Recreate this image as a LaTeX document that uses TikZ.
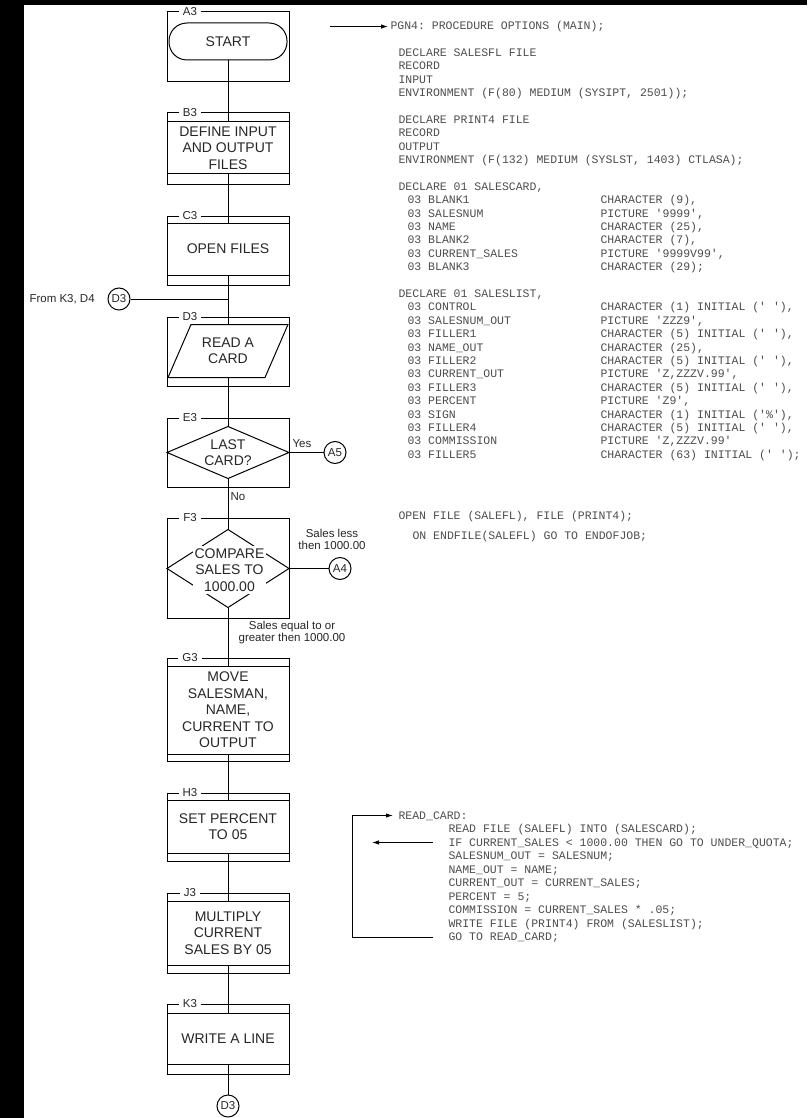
\documentclass[tikz,border=0pt]{standalone}
\usepackage{fontspec}
\setmainfont{Liberation Sans}
\setmonofont{Liberation Mono}
\usetikzlibrary{arrows.meta,calc}
\definecolor{ink}{gray}{0.15}
\definecolor{codeink}{gray}{0.3}
\newcommand\flowfont{\fontsize{14}{16.5}\selectfont}
\newcommand\labfont{\fontsize{11.5}{12}\selectfont}
\newcommand\codefont{\ttfamily\fontsize{11.5}{13.4}\selectfont}
\newcommand\cln[4]{\node[code] (#1) at (#2,{29.5+13.4*#3}) {#4};}
\newcommand\cdl[4]{\node[code] (#1a) at (407,{29.5+13.4*#2}) {#3};\node[code] (#1b) at (600,{29.5+13.4*#2}) {#4};}
\newcommand\bln[4]{\node[code] (#1) at (#2,{819+13.5*#3}) {#4};}
\begin{document}
\begin{tikzpicture}[x=1pt,y=-1pt, line width=1pt,
  frame/.style={draw, minimum width=122pt, inner sep=0pt},
  proc/.style={draw, minimum width=122pt, align=center, font=\flowfont, text=ink, inner sep=0pt},
  ghost/.style={minimum width=121pt, align=center, font=\flowfont, text=ink, inner sep=0pt},
  lbl/.style={fill=white, inner xsep=4pt, inner ysep=0.5pt, font=\labfont, text=ink},
  note/.style={font=\labfont, text=ink, align=center, inner sep=0pt},
  conn/.style={draw, circle, minimum size=22pt, inner sep=0pt, font=\labfont, text=ink},
  code/.style={anchor=base west, inner sep=0pt, font=\codefont, text=codeink},
  arr/.style={-{Latex[length=7pt,width=4.5pt]}},
]
\useasboundingbox (0,0) rectangle (807,1118);
\fill[black] (0,0) rectangle (24,1118);
\fill[black] (0,0) rectangle (807,5);

% ---- frames and symbols ----
% A3
\node[frame, minimum height=70pt] (fA) at (228,47) {};
\node[draw, rounded corners=18pt, minimum width=118pt, minimum height=37pt, font=\flowfont, text=ink] (start) at (228,41.5) {START};
% B3
\node[frame, minimum height=72pt] (fB) at (228,149) {};
\node[proc, minimum height=52pt] (pB) at (228,148) {DEFINE INPUT\\AND OUTPUT\\FILES};
% C3
\node[frame, minimum height=69pt] (fC) at (228,250.5) {};
\node[proc, minimum height=52pt] (pC) at (228,249) {OPEN FILES};
% D3
\node[frame, minimum height=69pt] (fD3) at (228,351.5) {};
\node[ghost, minimum height=52pt, minimum width=119pt] (pD) at (228,351) {READ A\\CARD};
\draw ($(pD.north west)+(23,0)$) -- (pD.north east) -- ($(pD.south east)-(23,0)$) -- (pD.south west) -- cycle;
% E3
\node[frame, minimum height=69pt] (fE) at (228,452.5) {};
\node[ghost, minimum height=51pt] (eD) at (228,452.5) {LAST\\CARD?};
\draw (eD.north) -- (eD.east) -- (eD.south) -- (eD.west) -- cycle;
% F3
\node[frame, minimum height=100pt] (fF) at (228,568) {};
\node[ghost, minimum height=77pt] (fD) at (228,568.5) {};
\draw (fD.north) -- (fD.east) -- (fD.south) -- (fD.west) -- cycle;
\node[fill=white, align=center, font=\flowfont, text=ink, inner xsep=2pt, inner ysep=3pt] (fT) at (229.5,570) {COMPARE\\SALES TO\\1000.00};
% G3
\node[frame, minimum height=103pt] (fG) at (228,709.5) {};
\node[proc, minimum height=88pt] (pG) at (228,710) {MOVE\\SALESMAN,\\NAME,\\CURRENT TO\\OUTPUT};
% H3
\node[frame, minimum height=68pt] (fH) at (228,827) {};
\node[proc, minimum height=53pt] (pH) at (228,826.5) {SET PERCENT\\TO 05};
% J3
\node[frame, minimum height=80pt] (fJ) at (228,933) {};
\node[proc, minimum height=64pt] (pJ) at (228,933) {MULTIPLY\\CURRENT\\SALES BY 05};
% K3
\node[frame, minimum height=70pt] (fK) at (228,1039) {};
\node[proc, minimum height=51pt] (pK) at (228,1038.5) {WRITE A LINE};
% end connector
\node[conn] (endc) at (228,1106) {D3};

% ---- connectors ----
\draw (start.south) -- (pB.north);
\draw (pB.south) -- (pC.north);
\draw (pC.south) -- (pD.north);
\draw (pD.south) -- (eD.north);
\draw (eD.south) -- (fD.north);
\draw (fD.south) -- (pG.north);
\draw (pG.south) -- (pH.north);
\draw (pH.south) -- (pJ.north);
\draw (pJ.south) -- (pK.north);
\draw (pK.south) -- (endc.north);

% ---- frame labels ----
\node[lbl] (lA) at (190,12) {A3};
\node[lbl] (lB) at (190,113) {B3};
\node[lbl] (lC) at (190,216) {C3};
\node[lbl] (lD) at (190,317) {D3};
\node[lbl] (lE) at (190,418) {E3};
\node[lbl] (lF) at (190,518) {F3};
\node[lbl] (lG) at (190,658) {G3};
\node[lbl] (lH) at (190,793) {H3};
\node[lbl] (lJ) at (190,893) {J3};
\node[lbl] (lK) at (190,1004) {K3};

% ---- side connectors ----
\node[conn] (dIn) at (119,299) {D3};
\node[note, anchor=west] (from) at (29,299) {From K3, D4};
\draw (dIn.east) -- (dIn.east -| pC.south);

\node[conn] (a5) at (335,452.5) {A5};
\draw (eD.east) -- (a5.west);
\node[note] (yes) at (302,444) {Yes};
\node[note] (no) at (238,497) {No};

\node[conn] (a4) at (340,568.5) {A4};
\draw (fD.east) -- (a4.west);
\node[note] (less) at (332,539) {Sales less\\then 1000.00};
\node[note] (geq) at (292,632.5) {Sales equal to or\\greater then 1000.00};

% ---- program listing ----
\cln{pgn}{390}{0}{PGN4: PROCEDURE OPTIONS (MAIN);}
\cln{c2}{398}{2}{DECLARE SALESFL FILE}
\cln{c3}{398}{3}{RECORD}
\cln{c4}{398}{4}{INPUT}
\cln{c5}{398}{5}{ENVIRONMENT (F(80) MEDIUM (SYSIPT, 2501));}
\cln{c7}{398}{7}{DECLARE PRINT4 FILE}
\cln{c8}{398}{8}{RECORD}
\cln{c9}{398}{9}{OUTPUT}
\cln{c10}{398}{10}{ENVIRONMENT (F(132) MEDIUM (SYSLST, 1403) CTLASA);}
\cln{c12}{398}{12}{DECLARE 01 SALESCARD,}
\cdl{c13}{13}{03 BLANK1}{CHARACTER (9),}
\cdl{c14}{14}{03 SALESNUM}{PICTURE '9999',}
\cdl{c15}{15}{03 NAME}{CHARACTER (25),}
\cdl{c16}{16}{03 BLANK2}{CHARACTER (7),}
\cdl{c17}{17}{03 CURRENT\_SALES}{PICTURE '9999V99',}
\cdl{c18}{18}{03 BLANK3}{CHARACTER (29);}
\cln{c20}{398}{20}{DECLARE 01 SALESLIST,}
\cdl{c21}{21}{03 CONTROL}{CHARACTER (1) INITIAL (' '),}
\cdl{c22}{22}{03 SALESNUM\_OUT}{PICTURE 'ZZZ9',}
\cdl{c23}{23}{03 FILLER1}{CHARACTER (5) INITIAL (' '),}
\cdl{c24}{24}{03 NAME\_OUT}{CHARACTER (25),}
\cdl{c25}{25}{03 FILLER2}{CHARACTER (5) INITIAL (' '),}
\cdl{c26}{26}{03 CURRENT\_OUT}{PICTURE 'Z,ZZZV.99',}
\cdl{c27}{27}{03 FILLER3}{CHARACTER (5) INITIAL (' '),}
\cdl{c28}{28}{03 PERCENT}{PICTURE 'Z9',}
\cdl{c29}{29}{03 SIGN}{CHARACTER (1) INITIAL ('\%'),}
\cdl{c30}{30}{03 FILLER4}{CHARACTER (5) INITIAL (' '),}
\cdl{c31}{31}{03 COMMISSION}{PICTURE 'Z,ZZZV.99'}
\cdl{c32}{32}{03 FILLER5}{CHARACTER (63) INITIAL (' ');}
\node[code] (open) at (398,519.5) {OPEN FILE (SALEFL), FILE (PRINT4);};
\node[code] (onend) at (412,539.5) {ON ENDFILE(SALEFL) GO TO ENDOFJOB;};

\coordinate (t0) at (330,0);
\draw[arr] (t0 |- pgn.west) -- ([xshift=-2pt]pgn.west);

% ---- main loop listing ----
\bln{rc}{398}{0}{READ\_CARD:}
\bln{b1}{448}{1}{READ FILE (SALEFL) INTO (SALESCARD);}
\bln{b2}{448}{2}{IF CURRENT\_SALES < 1000.00 THEN GO TO UNDER\_QUOTA;}
\bln{b3}{448}{3}{SALESNUM\_OUT = SALESNUM;}
\bln{b4}{448}{4}{NAME\_OUT = NAME;}
\bln{b5}{448}{5}{CURRENT\_OUT = CURRENT\_SALES;}
\bln{b6}{448}{6}{PERCENT = 5;}
\bln{b7}{448}{7}{COMMISSION = CURRENT\_SALES * .05;}
\bln{b8}{448}{8}{WRITE FILE (PRINT4) FROM (SALESLIST);}
\bln{b9}{448}{9}{GO TO READ\_CARD;}

\coordinate (rcm) at ([yshift=3.5pt]rc.base west);
\coordinate (b2m) at ([yshift=3.5pt]b2.base west);
\coordinate (b9m) at ([yshift=3.5pt]b9.base west);
\coordinate (lpL) at (352,0);
\coordinate (ifL) at (372,0);
\draw[arr] ([xshift=-15pt]b9m) -- (lpL |- b9m) -- (lpL |- rcm) -- ([xshift=-5pt]rcm);
\draw[arr] ([xshift=-15pt]b2m) -- (ifL |- b2m);
\end{tikzpicture}
\end{document}
